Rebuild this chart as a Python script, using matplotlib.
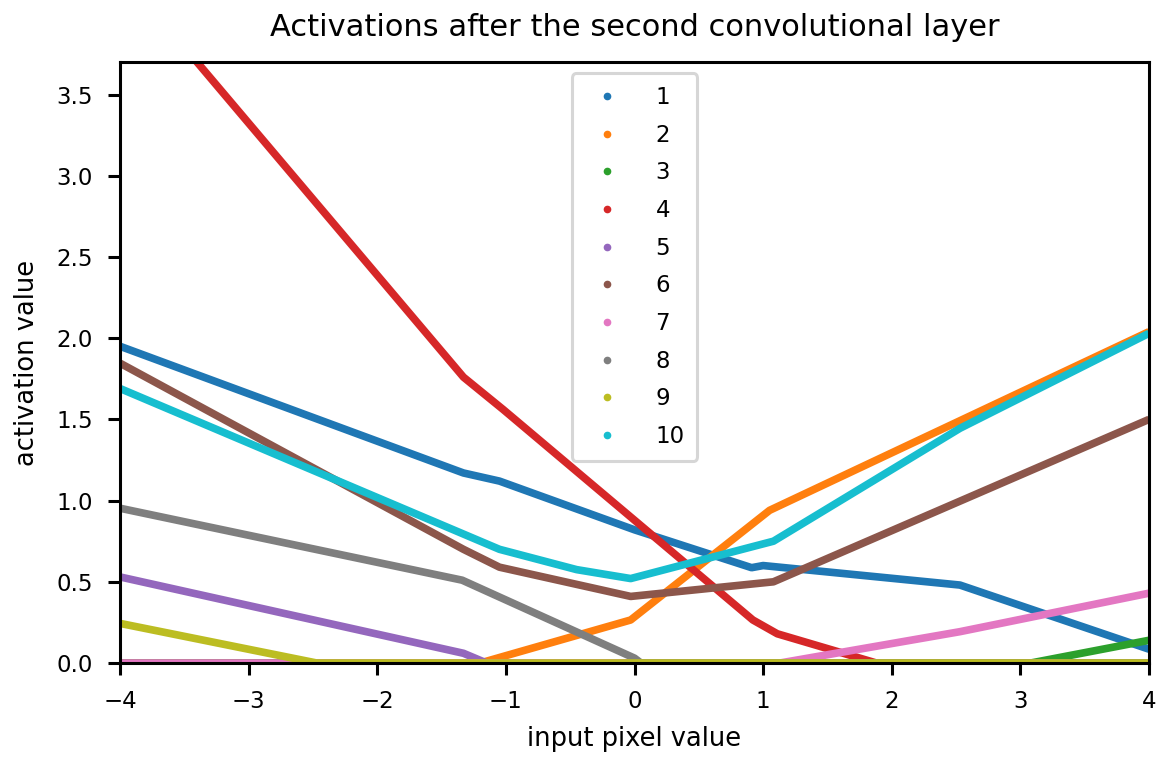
import matplotlib
matplotlib.use("Agg")
import matplotlib.pyplot as plt
from matplotlib.lines import Line2D

# Piecewise-linear activation responses (breakpoints) for each of the 10 channels
labels = ["1", "2", "3", "4", "5", "6", "7", "8", "9", "10"]

x1 = [-4, -1.33, -1.05, 0.0, 0.91, 1.0, 2.53, 4]
y1 = [1.95, 1.17, 1.12, 0.82, 0.587, 0.60, 0.48, 0.085]

x2 = [-4, -1.2, -0.03, 1.05, 4]
y2 = [0.0, 0.0, 0.265, 0.94, 2.04]

x3 = [-4, 3.08, 4]
y3 = [0.0, 0.0, 0.14]

x4 = [-4, -1.33, -1.02, 0.92, 1.11, 1.88, 4]
y4 = [4.26, 1.76, 1.56, 0.265, 0.18, 0.0, 0.0]

x5 = [-4, -1.33, -1.15, 4]
y5 = [0.53, 0.06, 0.0, 0.0]

x6 = [-4, -1.33, -1.05, -0.03, 1.08, 4]
y6 = [1.846, 0.70, 0.59, 0.41, 0.50, 1.50]

x7 = [-4, 1.13, 2.53, 4]
y7 = [0.0, 0.0, 0.193, 0.43]

x8 = [-4, -1.34, 0.0, 0.05, 4]
y8 = [0.953, 0.51, 0.03, 0.0, 0.0]

x9 = [-4, -2.47, 4]
y9 = [0.244, 0.0, 0.0]

x10 = [-4, -1.05, -0.45, -0.03, 0.92, 1.08, 2.53, 4]
y10 = [1.69, 0.70, 0.575, 0.52, 0.717, 0.75, 1.445, 2.03]

xs = [x1, x2, x3, x4, x5, x6, x7, x8, x9, x10]
ys = [y1, y2, y3, y4, y5, y6, y7, y8, y9, y10]
colors = plt.rcParams["axes.prop_cycle"].by_key()["color"]

fig = plt.figure(figsize=(11.63, 7.6), dpi=100)
ax = fig.add_axes([0.1032, 0.1276, 0.8848, 0.7908])

for xv, yv, c in zip(xs, ys, colors):
    ax.plot(xv, yv, color=c, lw=5.5, solid_joinstyle="round", solid_capstyle="butt")

ax.set_xlim(-4, 4)
ax.set_ylim(0, 3.7)
ax.set_title("Activations after the second convolutional layer", fontsize=22, pad=19)
ax.set_xlabel("input pixel value", fontsize=18.5, labelpad=9)
ax.set_ylabel("activation value", fontsize=18.5, labelpad=12)
ax.tick_params(labelsize=16.5, width=2.2, length=8.5, pad=11)
for s in ax.spines.values():
    s.set_linewidth(2.2)

handles = [Line2D([], [], ls="", marker="o", ms=4.5, color=c) for c in colors]
leg = ax.legend(handles, labels, loc="upper center", fontsize=16.5, handletextpad=1.1,
                borderpad=0.55, labelspacing=0.64, framealpha=0.8, edgecolor="#cccccc",
                borderaxespad=0.5)
leg.get_frame().set_linewidth(2.2)

fig.savefig("out.png", dpi=100)
